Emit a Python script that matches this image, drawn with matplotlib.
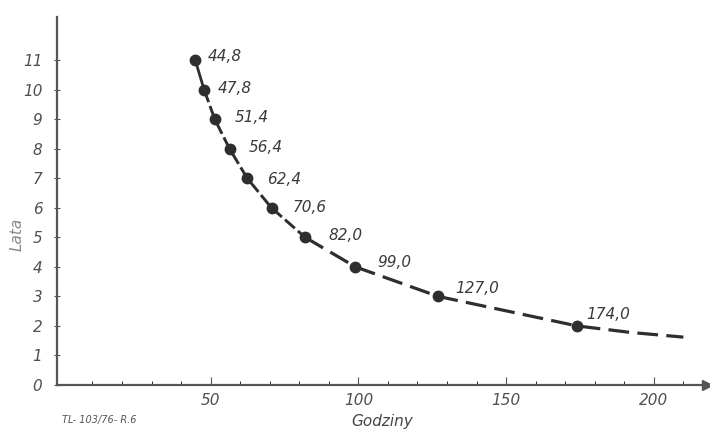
import matplotlib.pyplot as plt
import numpy as np

# godziny (x) i lata (y)
godziny = [44.8, 47.8, 51.4, 56.4, 62.4, 70.6, 82.0, 99.0, 127.0, 174.0]
lata = [11, 10, 9, 8, 7, 6, 5, 4, 3, 2]
# przedluzenie krzywej za ostatnim punktem
koniec_x = [174.0, 192.0, 210.0]
koniec_y = [2.0, 1.78, 1.62]

x_ticks = [50, 100, 150, 200]
y_ticks = list(range(0, 12))

ink = '#2e2e2e'
gray = '#555555'

fig = plt.figure(figsize=(7.1, 4.33), dpi=100)
ax = fig.add_axes([0.0803, 0.111, 0.9155, 0.85])

# krzywa: poczatek ciagly, dalej kreskowany
ax.plot(godziny[:2], lata[:2], color=ink, lw=2.0, solid_capstyle='round')
ax.plot(godziny[1:7], lata[1:7], color=ink, lw=2.1, dashes=(4.5, 1.4))
ax.plot(godziny[6:] + koniec_x[1:], lata[6:] + koniec_y[1:], color=ink, lw=2.3,
        dashes=(6.5, 2.6))
ax.plot(godziny, lata, 'o', color=ink, ms=7.5, zorder=3)

# etykiety punktow
offsets = [(9, 3), (10, 1), (14, 1), (14, 1), (14, -1), (15, 0), (17, 1),
           (16, 3), (12, 6), (7, 8)]
for gx, ly, off in zip(godziny, lata, offsets):
    ax.annotate(f'{gx:.1f}'.replace('.', ','), (gx, ly), xytext=off,
                textcoords='offset points', fontsize=11, style='italic',
                color='#3a3a3a', va='center', ha='left')

ax.set_xlim(-2, 218)
ax.set_ylim(0, 12.47)
ax.set_xticks(x_ticks)
ax.set_xticks(np.arange(10, 220, 10), minor=True)
ax.set_yticks(y_ticks)
ax.tick_params(axis='both', labelsize=11, colors=gray, labelcolor='#505050')
ax.tick_params(axis='x', which='major', direction='in', length=6, pad=6)
ax.tick_params(axis='x', which='minor', direction='in', length=3)
ax.tick_params(axis='y', direction='inout', length=5, pad=8)
for lab in ax.get_xticklabels() + ax.get_yticklabels():
    lab.set_style('italic')

for s in ['top', 'right']:
    ax.spines[s].set_visible(False)
for s in ['left', 'bottom']:
    ax.spines[s].set_color(gray)
    ax.spines[s].set_linewidth(1.6)
ax.plot([1], [0], '>', color=gray, ms=7, transform=ax.transAxes, clip_on=False)

ax.set_xlabel('Godziny', fontsize=11, style='italic', color='#444444', labelpad=4)
ax.set_ylabel('Lata', fontsize=11, style='italic', color='#888888', labelpad=12)
ax.yaxis.set_label_coords(-0.05, 0.41)
fig.text(0.088, 0.024, 'TL- 103/76- R.6', fontsize=7, style='italic', color='#555555')

fig.savefig('out.png', dpi=100)
